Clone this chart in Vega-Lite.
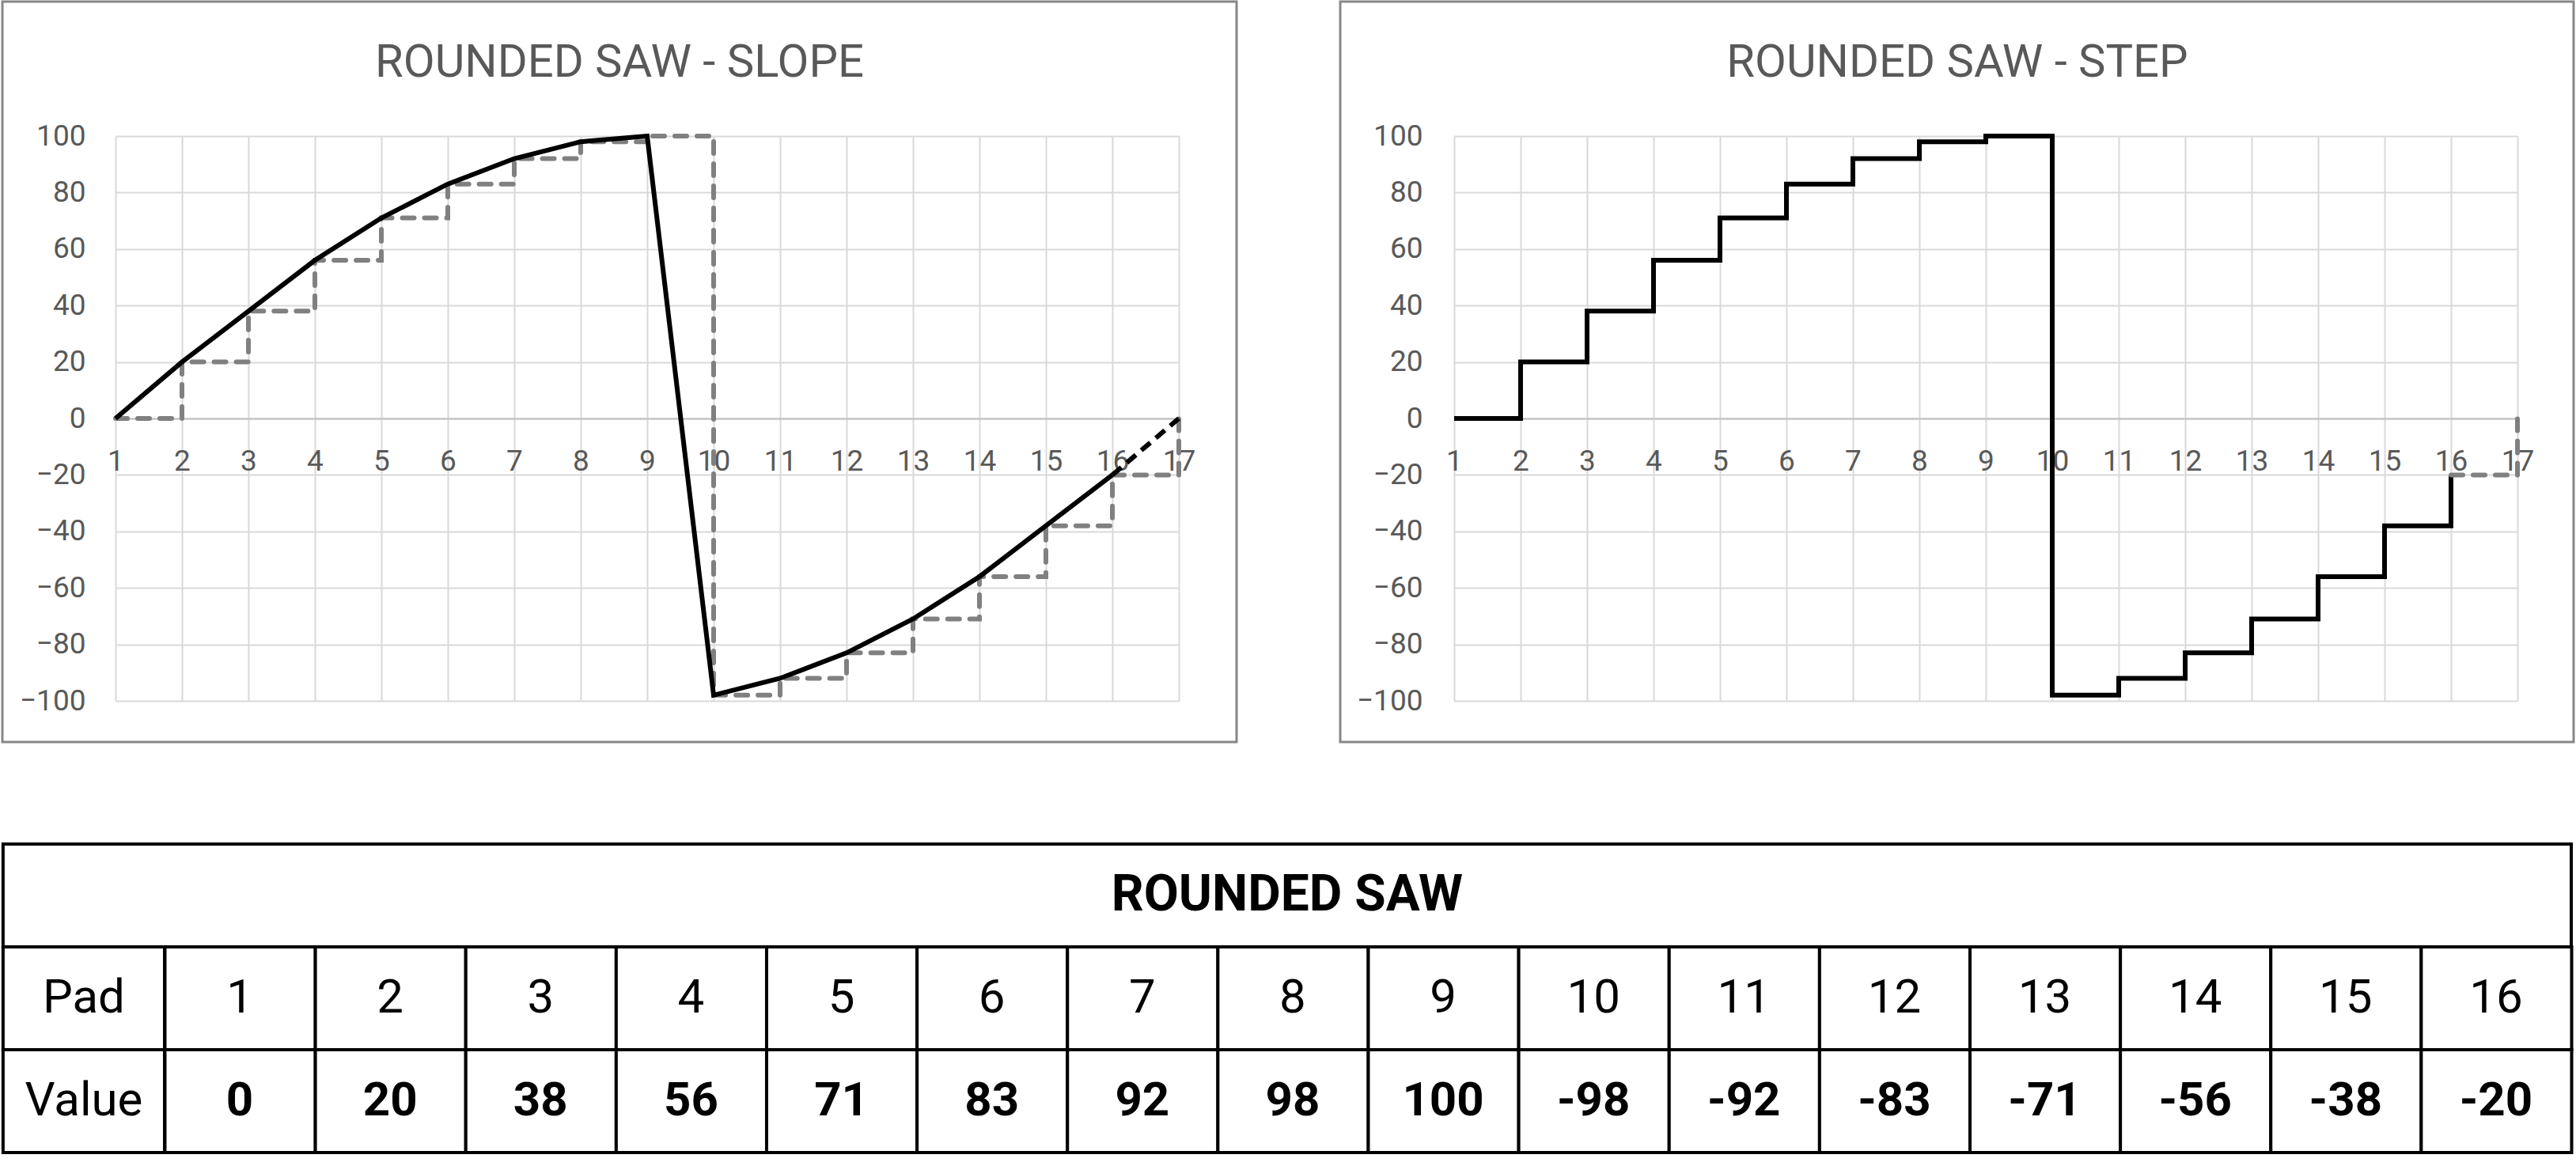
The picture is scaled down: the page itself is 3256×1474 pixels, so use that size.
{
  "$schema": "https://vega.github.io/schema/vega-lite/v6.json",
  "padding": {"left": 1, "top": 0, "right": 0, "bottom": 0},
  "background": "white",
  "config": {
    "font": "Roboto",
    "view": {"stroke": null},
    "axis": {
      "title": null,
      "grid": true,
      "gridColor": "#D9D9D9",
      "gridWidth": 2,
      "ticks": false,
      "tickSize": 0,
      "labelFont": "Roboto",
      "labelFontSize": 37,
      "labelColor": "#595959",
      "labelFlush": false,
      "labelOverlap": false
    },
    "title": {"font": "Roboto", "fontSize": 58, "fontWeight": "normal", "color": "#595959", "baseline": "alphabetic", "anchor": "middle", "offset": -108.5}
  },
  "datasets": {
    "saw": [
      {"pad": 1, "value": 0},
      {"pad": 2, "value": 20},
      {"pad": 3, "value": 38},
      {"pad": 4, "value": 56},
      {"pad": 5, "value": 71},
      {"pad": 6, "value": 83},
      {"pad": 7, "value": 92},
      {"pad": 8, "value": 98},
      {"pad": 9, "value": 100},
      {"pad": 10, "value": -98},
      {"pad": 11, "value": -92},
      {"pad": 12, "value": -83},
      {"pad": 13, "value": -71},
      {"pad": 14, "value": -56},
      {"pad": 15, "value": -38},
      {"pad": 16, "value": -20}
    ],
    "wrap": [
      {"pad": 16, "value": -20},
      {"pad": 17, "value": 0}
    ],
    "rows": [{"row": "Pad"}, {"row": "Value"}],
    "head": [{"title": "ROUNDED SAW"}],
    "one": [{"frame": 1}]
  },
  "vconcat": [
    {
      "hconcat": [
        {
          "width": 1344,
          "height": 714,
          "title": {"text": "ROUNDED SAW - SLOPE", "dx": -35},
          "layer": [
            {
              "data": {"name": "one"},
              "mark": {"type": "rect", "filled": false, "stroke": "#878787", "strokeWidth": 3},
              "encoding": {
                "x": {"datum": -0.702, "type": "quantitative"},
                "x2": {"datum": 17.869},
                "y": {"datum": 147.62, "type": "quantitative"},
                "y2": {"datum": -114.57}
              }
            },
            {
              "data": {"name": "saw"},
              "mark": {"type": "line", "interpolate": "step-after", "color": "#808080", "strokeWidth": 6, "strokeDash": [15, 13], "strokeCap": "round"},
              "encoding": {
                "x": {"field": "pad", "type": "quantitative", "scale": {"domain": [1, 17], "nice": false, "zero": false},
                  "axis": {"tickCount": 16, "offset": -357, "domain": true, "domainColor": "#BFBFBF", "domainWidth": 2, "labelPadding": 36, "labelBaseline": "top"}},
                "y": {"field": "value", "type": "quantitative", "scale": {"domain": [-100, 100], "nice": false, "zero": false},
                  "axis": {"tickCount": 10, "domain": false, "labelPadding": 38}}
              }
            },
            {
              "data": {"name": "wrap"},
              "mark": {"type": "line", "interpolate": "step-after", "color": "#808080", "strokeWidth": 6, "strokeDash": [15, 13], "strokeCap": "round"},
              "encoding": {
                "x": {"field": "pad", "type": "quantitative"},
                "y": {"field": "value", "type": "quantitative"}
              }
            },
            {
              "data": {"name": "saw"},
              "mark": {"type": "line", "color": "black", "strokeWidth": 6},
              "encoding": {
                "x": {"field": "pad", "type": "quantitative"},
                "y": {"field": "value", "type": "quantitative"}
              }
            },
            {
              "data": {"name": "wrap"},
              "mark": {"type": "line", "color": "black", "strokeWidth": 6, "strokeDash": [15, 9]},
              "encoding": {
                "x": {"field": "pad", "type": "quantitative"},
                "y": {"field": "value", "type": "quantitative"}
              }
            }
          ]
        },
        {
          "width": 1344,
          "height": 714,
          "title": {"text": "ROUNDED SAW - STEP", "dx": -36},
          "layer": [
            {
              "data": {"name": "one"},
              "mark": {"type": "rect", "filled": false, "stroke": "#878787", "strokeWidth": 3},
              "encoding": {
                "x": {"datum": -0.714, "type": "quantitative"},
                "x2": {"datum": 17.845},
                "y": {"datum": 147.62, "type": "quantitative"},
                "y2": {"datum": -114.57}
              }
            },
            {
              "data": {"name": "saw"},
              "mark": {"type": "line", "interpolate": "step-after", "color": "black", "strokeWidth": 6},
              "encoding": {
                "x": {"field": "pad", "type": "quantitative", "scale": {"domain": [1, 17], "nice": false, "zero": false},
                  "axis": {"tickCount": 16, "offset": -357, "domain": true, "domainColor": "#BFBFBF", "domainWidth": 2, "labelPadding": 36, "labelBaseline": "top"}},
                "y": {"field": "value", "type": "quantitative", "scale": {"domain": [-100, 100], "nice": false, "zero": false},
                  "axis": {"tickCount": 10, "domain": false, "labelPadding": 40}}
              }
            },
            {
              "data": {"name": "wrap"},
              "mark": {"type": "line", "interpolate": "step-after", "color": "#808080", "strokeWidth": 6, "strokeDash": [15, 13], "strokeCap": "round"},
              "encoding": {
                "x": {"field": "pad", "type": "quantitative"},
                "y": {"field": "value", "type": "quantitative"}
              }
            }
          ]
        }
      ],
      "spacing": 127
    },
    {
      "width": 3104,
      "height": 390,
      "layer": [
        {
          "data": {"name": "head"},
          "mark": {"type": "rect", "fill": "white", "stroke": "black", "strokeWidth": 4},
          "encoding": {
            "x": {"datum": -0.5736, "type": "quantitative", "scale": {"domain": [0.174, 16.5], "nice": false, "zero": false}, "axis": null},
            "x2": {"datum": 16.5},
            "y": {"datum": "head", "type": "nominal", "scale": {"type": "band", "domain": ["head", "Pad", "Value"], "paddingInner": 0, "paddingOuter": 0}, "axis": null}
          }
        },
        {
          "data": {"name": "rows"},
          "mark": {"type": "rect", "fill": "white", "stroke": "black", "strokeWidth": 4},
          "encoding": {
            "x": {"datum": -0.5736, "type": "quantitative"},
            "x2": {"datum": 0.5},
            "y": {"field": "row", "type": "nominal"}
          }
        },
        {
          "data": {"name": "saw"},
          "mark": {"type": "rect", "fill": "white", "stroke": "black", "strokeWidth": 4, "binSpacing": 0},
          "encoding": {
            "x": {"field": "pad", "type": "quantitative", "bin": {"step": 1, "extent": [0.5, 16.5], "nice": false}},
            "y": {"datum": "Pad", "type": "nominal"}
          }
        },
        {
          "data": {"name": "saw"},
          "mark": {"type": "rect", "fill": "white", "stroke": "black", "strokeWidth": 4, "binSpacing": 0},
          "encoding": {
            "x": {"field": "pad", "type": "quantitative", "bin": {"step": 1, "extent": [0.5, 16.5], "nice": false}},
            "y": {"datum": "Value", "type": "nominal"}
          }
        },
        {
          "data": {"name": "head"},
          "mark": {"type": "text", "fontSize": 64, "fontWeight": "bold", "color": "black"},
          "encoding": {
            "x": {"datum": 7.963, "type": "quantitative"},
            "y": {"datum": "head", "type": "nominal"},
            "text": {"field": "title"}
          }
        },
        {
          "data": {"name": "rows"},
          "mark": {"type": "text", "fontSize": 60, "color": "black"},
          "encoding": {
            "x": {"datum": -0.0368, "type": "quantitative"},
            "y": {"field": "row", "type": "nominal"},
            "text": {"field": "row"}
          }
        },
        {
          "data": {"name": "saw"},
          "mark": {"type": "text", "fontSize": 60, "color": "black"},
          "encoding": {
            "x": {"field": "pad", "type": "quantitative"},
            "y": {"datum": "Pad", "type": "nominal"},
            "text": {"field": "pad"}
          }
        },
        {
          "data": {"name": "saw"},
          "mark": {"type": "text", "fontSize": 60, "fontWeight": "bold", "color": "black"},
          "encoding": {
            "x": {"field": "pad", "type": "quantitative"},
            "y": {"datum": "Value", "type": "nominal"},
            "text": {"field": "value"}
          }
        }
      ]
    }
  ],
  "spacing": 125
}
